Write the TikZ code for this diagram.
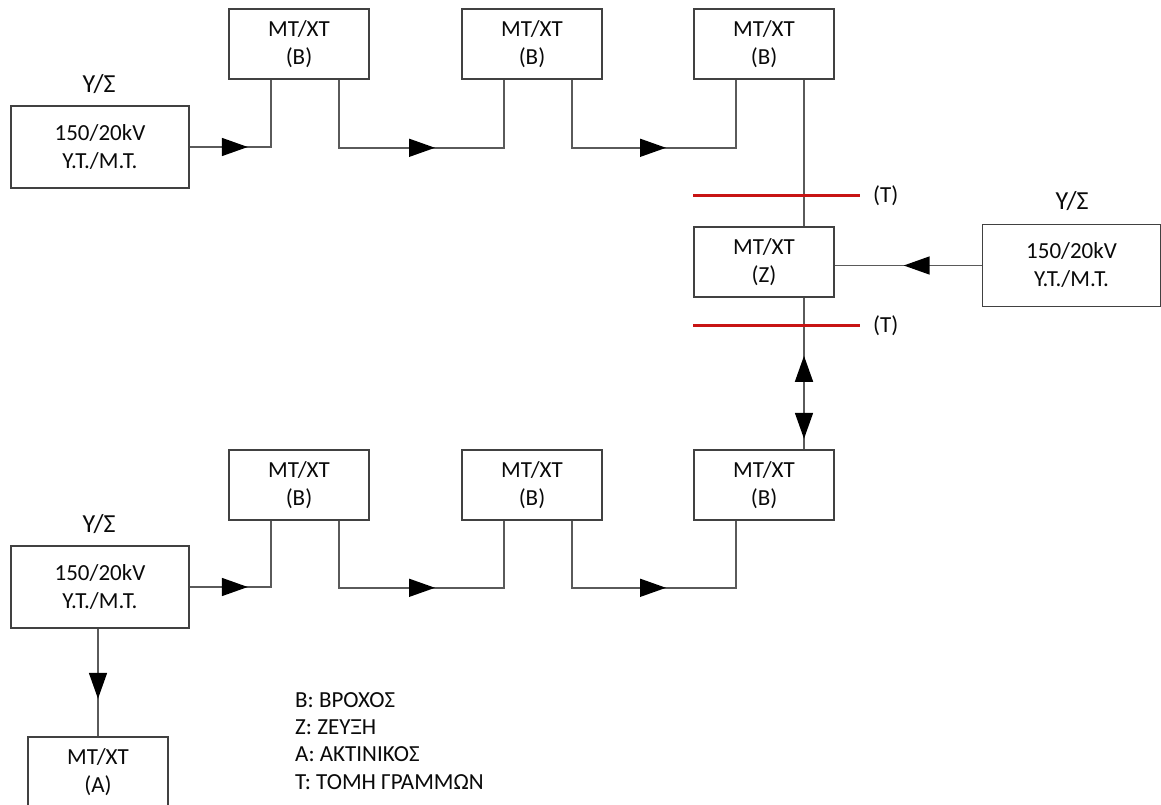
\documentclass[tikz,border=0pt]{standalone}
\usepackage{fontspec}
\setmainfont{Carlito}
\usetikzlibrary{arrows.meta,decorations.markings,calc}

\definecolor{wirecol}{RGB}{90,90,90}
\definecolor{framecol}{RGB}{65,65,65}
\definecolor{cutred}{RGB}{200,20,20}
\definecolor{inkcol}{RGB}{10,10,10}

\tikzset{
  txt/.style={text=inkcol, font=\fontsize{23}{28}\selectfont},
  unitbox/.style={txt, draw=framecol, line width=1.6pt, fill=white,
    minimum width=140pt, minimum height=70pt, inner sep=0pt, align=center},
  substbox/.style={unitbox, minimum width=178pt, minimum height=82pt},
  lbl/.style={txt, inner sep=0pt},
  biglbl/.style={lbl, font=\fontsize{26}{30}\selectfont},
  wire/.style={draw=wirecol, line width=1.6pt},
  cutline/.style={draw=cutred, line width=3pt},
  tipat/.style={postaction={decorate}, decoration={markings,
    mark=at position #1 with {\arrow[black]{Triangle[length=26pt,width=18pt]}}}},
  bothtips/.style 2 args={postaction={decorate}, decoration={markings,
    mark=at position #1 with {\arrowreversed[black]{Triangle[length=26pt,width=18pt]}},
    mark=at position #2 with {\arrow[black]{Triangle[length=26pt,width=18pt]}}}},
}

\begin{document}
\begin{tikzpicture}[x=1pt,y=-1pt]
\useasboundingbox (0,0) rectangle (1161,805);
\fill[white] (0,0) rectangle (1161,805);
\clip (0,0) rectangle (1161,805);

% substations 150/20kV
\node[substbox] (ysA) at (100,147) {150/20kV\\Υ.Τ./Μ.Τ.};
\node[substbox] (ysB) at (1071.5,265.5) {150/20kV\\Υ.Τ./Μ.Τ.};
\node[substbox] (ysC) at (100,587) {150/20kV\\Υ.Τ./Μ.Τ.};
\node[biglbl, anchor=base] (labA) at (99,93) {Υ/Σ};
\node[biglbl, anchor=base] (labB) at (1072,209) {Υ/Σ};
\node[biglbl, anchor=base] (labC) at (99,532) {Υ/Σ};

% MV/LV units, upper loop
\node[unitbox] (t1) at (299,44) {ΜΤ/ΧΤ\\(Β)};
\node[unitbox] (t2) at (532,44) {ΜΤ/ΧΤ\\(Β)};
\node[unitbox] (t3) at (764,44) {ΜΤ/ΧΤ\\(Β)};
% tie unit
\node[unitbox] (z) at (764,262) {ΜΤ/ΧΤ\\(Ζ)};
% MV/LV units, lower loop
\node[unitbox] (b1) at (299,485) {ΜΤ/ΧΤ\\(Β)};
\node[unitbox] (b2) at (532,485) {ΜΤ/ΧΤ\\(Β)};
\node[unitbox] (b3) at (764,485) {ΜΤ/ΧΤ\\(Β)};
% radial unit
\node[unitbox] (a) at (98,772) {ΜΤ/ΧΤ\\(Α)};

% feeder terminals on the unit boxes
\foreach \u in {t1,t2,t3,b1,b2,b3}{
  \coordinate (\u p) at ($(\u.south)+(-28,0)$);
  \coordinate (\u q) at ($(\u.south)+(40,0)$);
}

% upper loop
\draw[wire, tipat=58pt] (ysA.east) -| (t1p);
\draw[wire, tipat=164pt] (t1q) -- ++(0,68) -| (t2p);
\draw[wire, tipat=162pt] (t2q) -- ++(0,68) -| (t3p);
\draw[wire] (t3q) -- (z.north -| t3q);

% feed into the tie unit
\draw[wire, tipat=78pt] (ysB.west) -- (z.east |- ysB.west);

% tie towards lower loop
\draw[wire, bothtips={58pt}{141pt}] (z.south -| t3q) -- (b3.north -| t3q);

% lower loop
\draw[wire, tipat=58pt] (ysC.east) -| (b1p);
\draw[wire, tipat=163pt] (b1q) -- ++(0,67) -| (b2p);
\draw[wire, tipat=161pt] (b2q) -- ++(0,67) -| (b3p);

% radial feeder
\draw[wire, tipat=70pt] (ysC.south -| a.north) -- (a.north);

% line sections
\coordinate (c1a) at (693,196); \coordinate (c1b) at (860,196);
\coordinate (c2a) at (693,325); \coordinate (c2b) at (860,325);
\draw[cutline] (c1a) -- (c1b);
\draw[cutline] (c2a) -- (c2b);
\node[lbl, anchor=base west] (cutA) at (873,203) {(Τ)};
\node[lbl, anchor=base west] (cutB) at (873,332) {(Τ)};

% legend
\node[lbl, anchor=base west] (leg1) at (295,707) {Β: ΒΡΟΧΟΣ};
\node[lbl, anchor=base west] (leg2) at (295,734) {Ζ: ΖΕΥΞΗ};
\node[lbl, anchor=base west] (leg3) at (295,761) {Α: ΑΚΤΙΝΙΚΟΣ};
\node[lbl, anchor=base west] (leg4) at (295,789) {Τ: ΤΟΜΗ ΓΡΑΜΜΩΝ};
\end{tikzpicture}
\end{document}
